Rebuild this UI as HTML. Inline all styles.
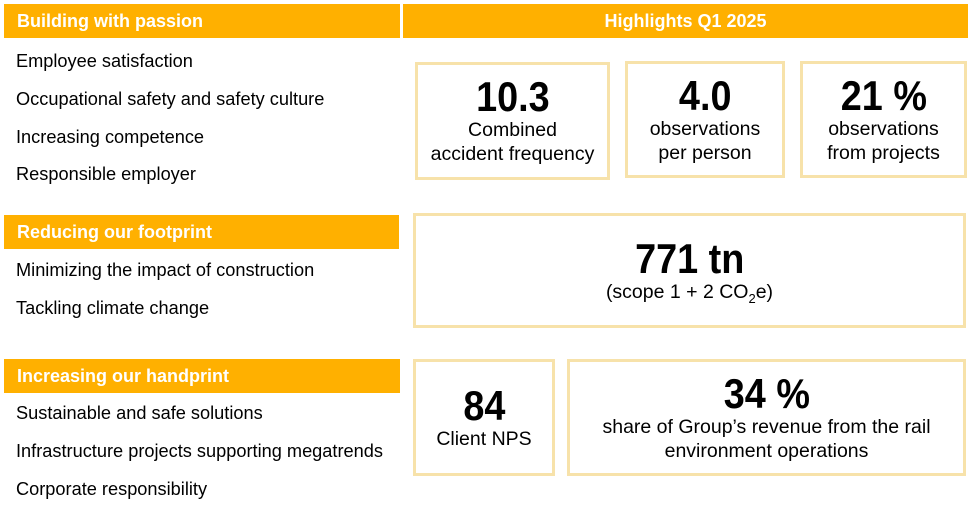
<!DOCTYPE html>
<html><head><meta charset="utf-8"><style>
body{margin:0;width:978px;height:508px;background:#fff;font-family:"Liberation Sans",Arial,sans-serif;position:relative;overflow:hidden;color:#000}
.hdr{position:absolute;background:#FFB000;color:#fff;font-weight:bold;font-size:18px;line-height:34px;box-sizing:border-box;padding-left:13px}
.item{position:absolute;left:16px;font-size:18.2px;line-height:20px;white-space:nowrap}
.box{position:absolute;border:3px solid #F7E2AA;box-sizing:border-box;text-align:center;display:flex;flex-direction:column;justify-content:center}
.big{font-weight:bold;font-size:42px;line-height:42px}
.big span{display:inline-block;transform:scaleX(0.9)}
.sub{font-size:19.5px;line-height:24px;white-space:nowrap}
</style></head><body>
<div class="hdr" style="left:4px;top:4px;width:396px;height:34px">Building with passion</div>
<div class="hdr" style="left:403px;top:4px;width:565px;height:34px;padding-left:0;text-align:center">Highlights Q1 2025</div>
<div class="item" style="top:51px">Employee satisfaction</div>
<div class="item" style="top:89px">Occupational safety and safety culture</div>
<div class="item" style="top:127px">Increasing competence</div>
<div class="item" style="top:164px">Responsible employer</div>

<div class="box" style="left:415px;top:62px;width:195px;height:118px"><div class="big"><span>10.3</span></div><div class="sub">Combined<br>accident frequency</div></div>
<div class="box" style="left:625px;top:61px;width:160px;height:117px"><div class="big"><span>4.0</span></div><div class="sub">observations<br>per person</div></div>
<div class="box" style="left:800px;top:61px;width:167px;height:117px"><div class="big"><span>21 %</span></div><div class="sub">observations<br>from projects</div></div>

<div class="hdr" style="left:4px;top:215px;width:395px;height:34px">Reducing our footprint</div>
<div class="item" style="top:260px">Minimizing the impact of construction</div>
<div class="item" style="top:298px">Tackling climate change</div>
<div class="box" style="left:413px;top:213px;width:553px;height:115px"><div class="big"><span>771 tn</span></div><div class="sub">(scope 1 + 2 CO<sub style="font-size:13px;line-height:0">2</sub>e)</div></div>

<div class="hdr" style="left:4px;top:359px;width:396px;height:34px">Increasing our handprint</div>
<div class="item" style="top:403px">Sustainable and safe solutions</div>
<div class="item" style="top:441px">Infrastructure projects supporting megatrends</div>
<div class="item" style="top:479px">Corporate responsibility</div>
<div class="box" style="left:413px;top:359px;width:142px;height:117px"><div class="big"><span>84</span></div><div class="sub">Client NPS</div></div>
<div class="box" style="left:567px;top:359px;width:399px;height:117px"><div class="big"><span>34 %</span></div><div class="sub">share of Group’s revenue from the rail<br>environment operations</div></div>
</body></html>
